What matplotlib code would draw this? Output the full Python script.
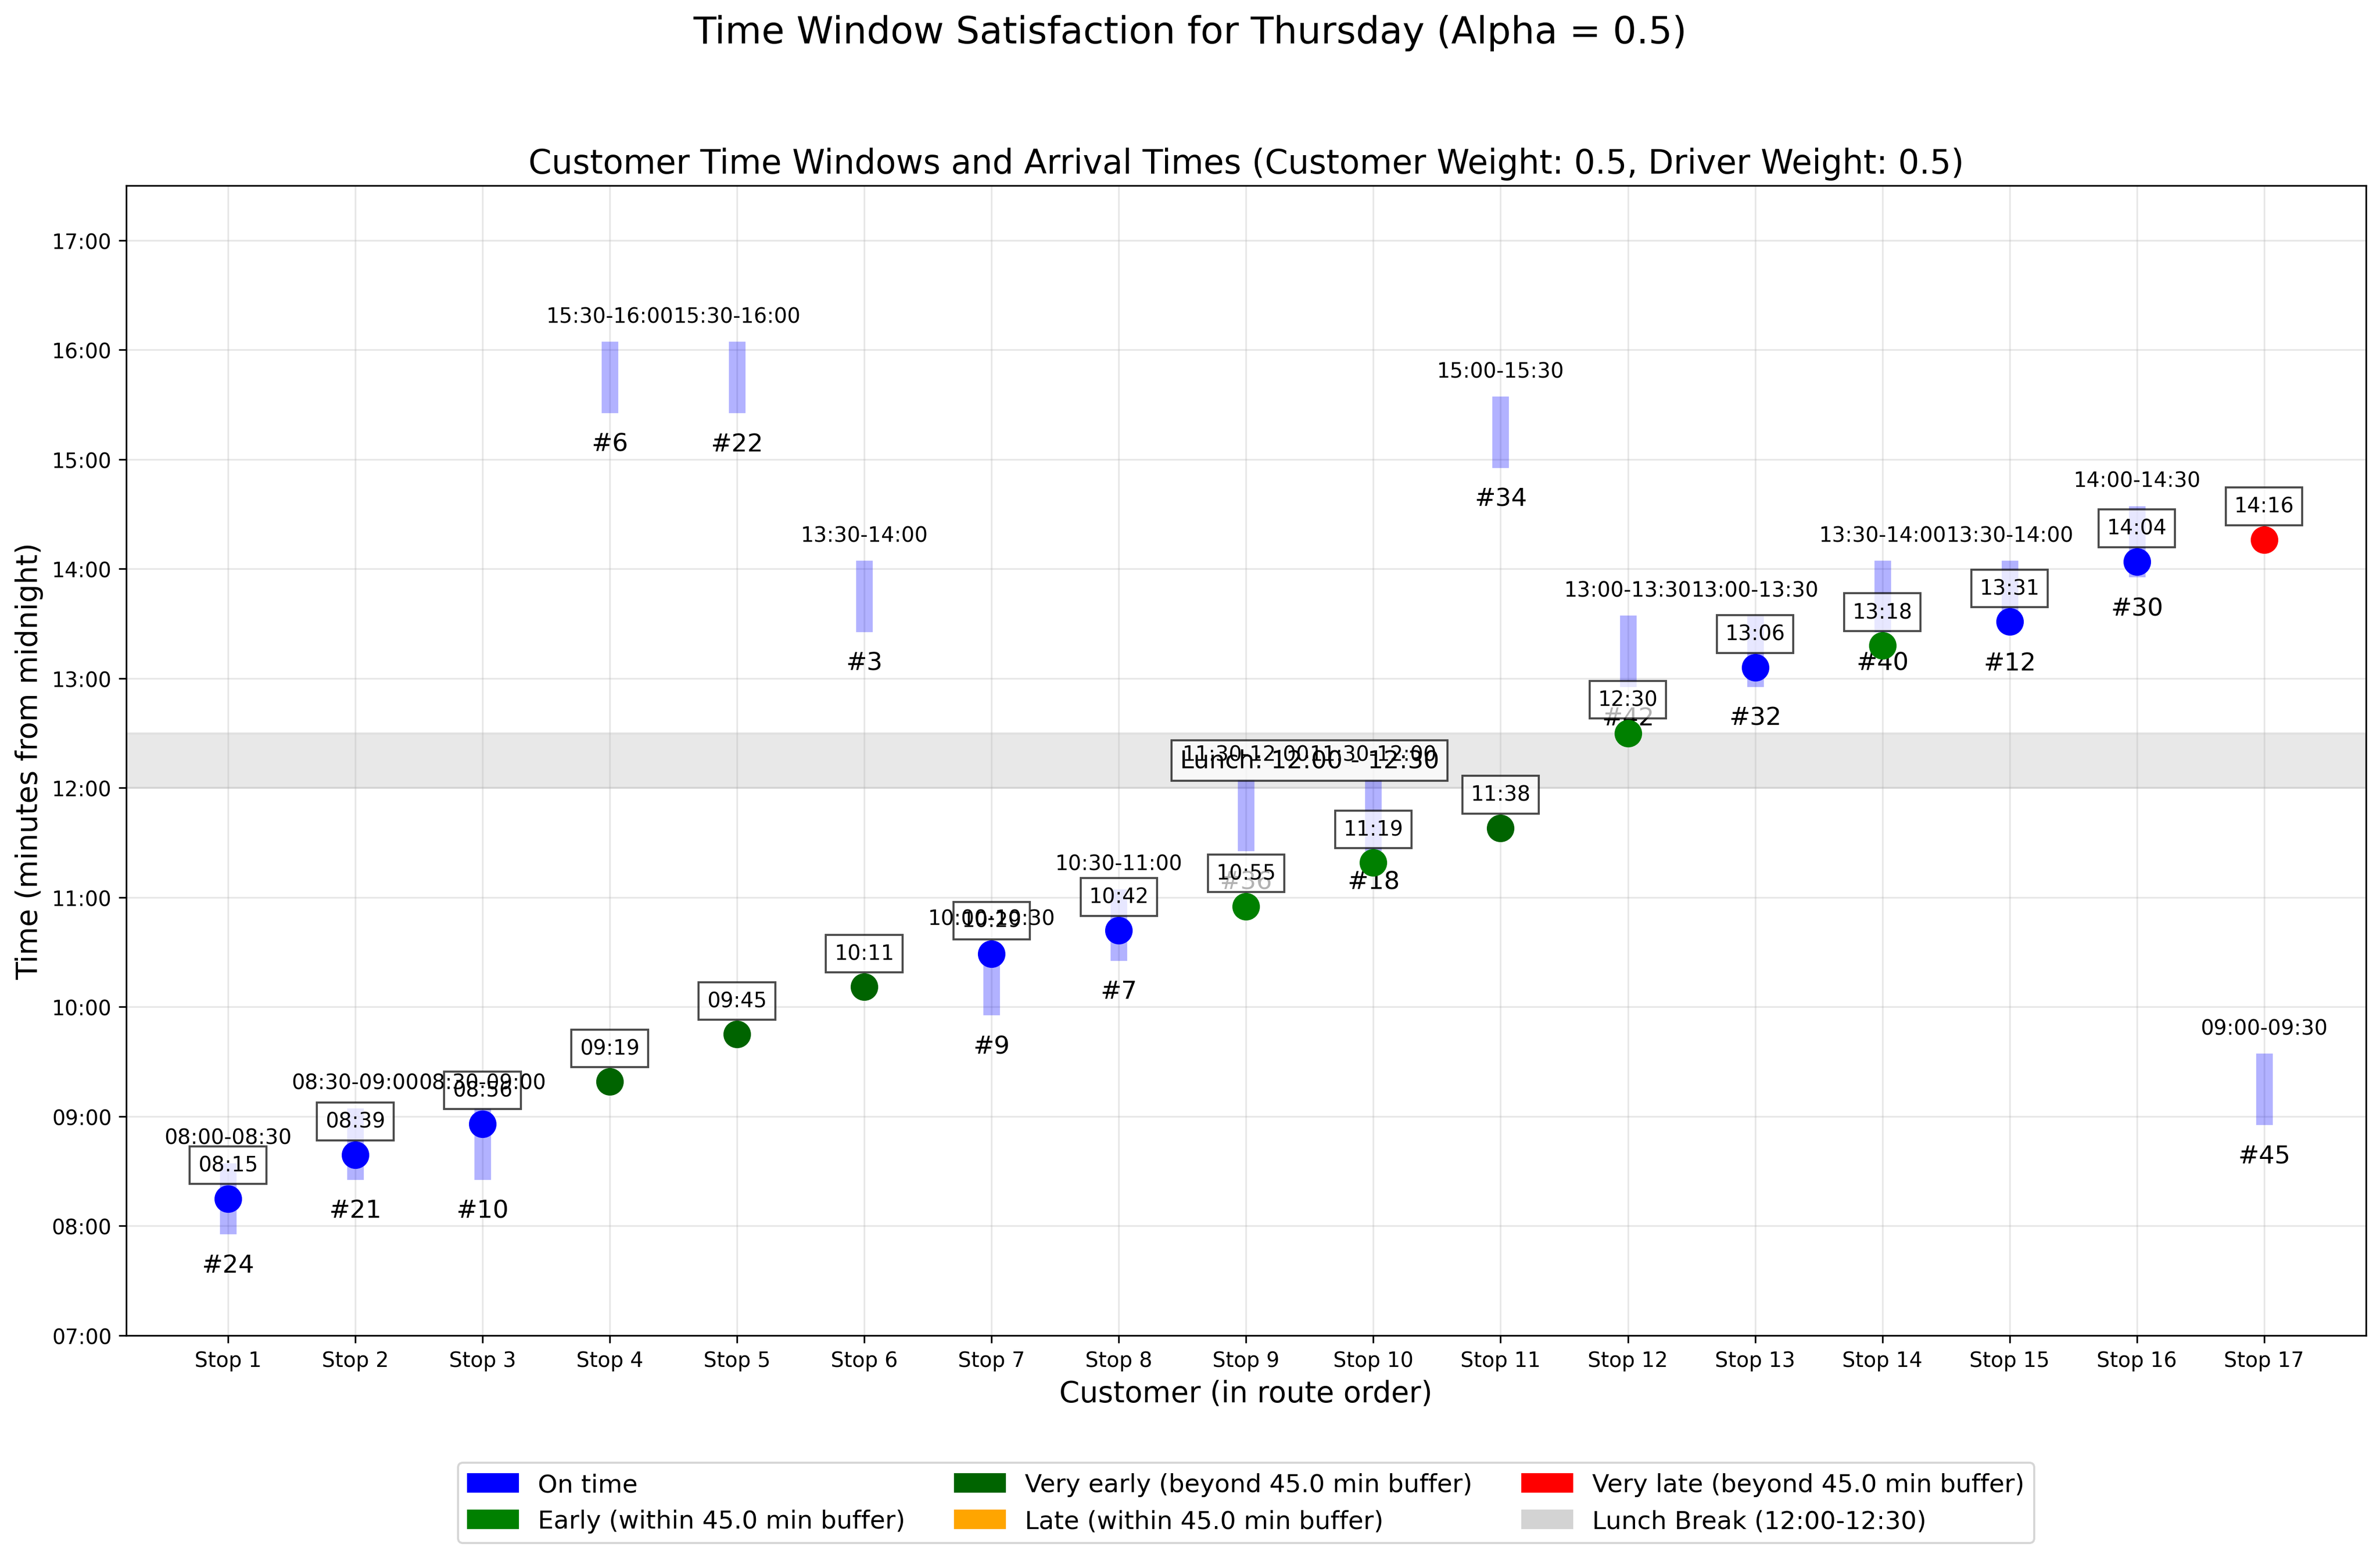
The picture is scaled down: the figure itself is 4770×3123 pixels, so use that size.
import matplotlib
matplotlib.use("Agg")
import matplotlib.pyplot as plt
from matplotlib.patches import Patch


output_file = "out.png"

# route order data
stop_labels = [f"Stop {i}" for i in range(1, 18)]
customer_ids = [24, 21, 10, 6, 22, 3, 9, 7, 36, 18, 34, 42, 32, 40, 12, 30, 45]
window_starts = ["08:00", "08:30", "08:30", "15:30", "15:30", "13:30", "10:00", "10:30", "11:30",
                 "11:30", "15:00", "13:00", "13:00", "13:30", "13:30", "14:00", "09:00"]
window_ends = ["08:30", "09:00", "09:00", "16:00", "16:00", "14:00", "10:30", "11:00", "12:00",
               "12:00", "15:30", "13:30", "13:30", "14:00", "14:00", "14:30", "09:30"]
arrival_times = ["08:15", "08:39", "08:56", "09:19", "09:45", "10:11", "10:29", "10:42", "10:55",
                 "11:19", "11:38", "12:30", "13:06", "13:18", "13:31", "14:04", "14:16"]
arrival_status = ["on_time", "on_time", "on_time", "very_early", "very_early", "very_early", "on_time",
                  "on_time", "early", "early", "very_early", "early", "on_time", "early", "on_time",
                  "on_time", "very_late"]

lunch_start = "12:00"
lunch_end = "12:30"
buffer_minutes = 45.0

status_colors = {
    "on_time": "blue",
    "early": "green",
    "very_early": "darkgreen",
    "late": "orange",
    "very_late": "red",
}


def to_minutes(hhmm: str) -> int:
    h, m = hhmm.split(":")
    return int(h) * 60 + int(m)


def fmt_minutes(minutes: float) -> str:
    return f"{int(minutes) // 60:02d}:{int(minutes) % 60:02d}"


def main():
    fig = plt.figure(figsize=(15.9, 10.413), dpi=300)
    ax = fig.add_subplot(111)
    fig.subplots_adjust(left=0.0530, right=0.9941, top=0.8806, bottom=0.1428)

    # Lunch break band
    lunch_s = to_minutes(lunch_start)
    lunch_e = to_minutes(lunch_end)
    ax.axhspan(lunch_s, lunch_e, color="lightgray", alpha=0.5)
    ax.text(len(stop_labels) / 2, (lunch_s + lunch_e) / 2, f"Lunch: {lunch_start} - {lunch_end}",
            ha="center", va="center", fontsize=12,
            bbox=dict(facecolor="white", alpha=0.7))

    for i, cid in enumerate(customer_ids):
        start = to_minutes(window_starts[i])
        end = to_minutes(window_ends[i])
        ax.plot([i, i], [start, end], color="blue", alpha=0.3, linewidth=8)
        # window label sits above the arrival boxes, customer id below them
        ax.text(i, end + 15, f"{window_starts[i]}-{window_ends[i]}",
                ha="center", va="baseline", fontsize=10, zorder=7)
        ax.text(i, start - 15, f"#{cid}", ha="center", va="top", fontsize=12, zorder=3)

    for i, arr in enumerate(arrival_times):
        arr_min = to_minutes(arr)
        ax.scatter(i, arr_min, color=status_colors[arrival_status[i]], s=150, zorder=5)
        ax.text(i, arr_min + 15, fmt_minutes(arr_min), ha="center", va="baseline",
                fontsize=10, bbox=dict(facecolor="white", alpha=0.7), zorder=6)

    ax.set_xticks(range(len(stop_labels)))
    ax.set_xticklabels(stop_labels)
    ax.set_xlim(-0.8, len(stop_labels) - 0.2)

    y_ticks = list(range(420, 1021, 60))
    ax.set_yticks(y_ticks)
    ax.set_yticklabels([fmt_minutes(t) for t in y_ticks])
    ax.set_ylim(420, 1050)

    ax.set_xlabel("Customer (in route order)", fontsize=14)
    ax.set_ylabel("Time (minutes from midnight)", fontsize=14)
    ax.set_title("Customer Time Windows and Arrival Times (Customer Weight: 0.5, Driver Weight: 0.5)",
                 fontsize=16)
    ax.grid(True, alpha=0.3)

    legend_items = [
        Patch(color=status_colors["on_time"], label="On time"),
        Patch(color=status_colors["early"], label=f"Early (within {buffer_minutes} min buffer)"),
        Patch(color=status_colors["very_early"], label=f"Very early (beyond {buffer_minutes} min buffer)"),
        Patch(color=status_colors["late"], label=f"Late (within {buffer_minutes} min buffer)"),
        Patch(color=status_colors["very_late"], label=f"Very late (beyond {buffer_minutes} min buffer)"),
        Patch(color="lightgray", label=f"Lunch Break ({lunch_start}-{lunch_end})"),
    ]
    ax.legend(handles=legend_items, loc="upper center", bbox_to_anchor=(0.5, -0.1),
              ncol=3, fontsize=12)

    fig.suptitle("Time Window Satisfaction for Thursday (Alpha = 0.5)", fontsize=18,
                 y=0.9722, va="baseline")

    fig.savefig(output_file, dpi=300)
    plt.close(fig)
    print(f"Saved plot to '{output_file}'")


if __name__ == "__main__":
    main()
